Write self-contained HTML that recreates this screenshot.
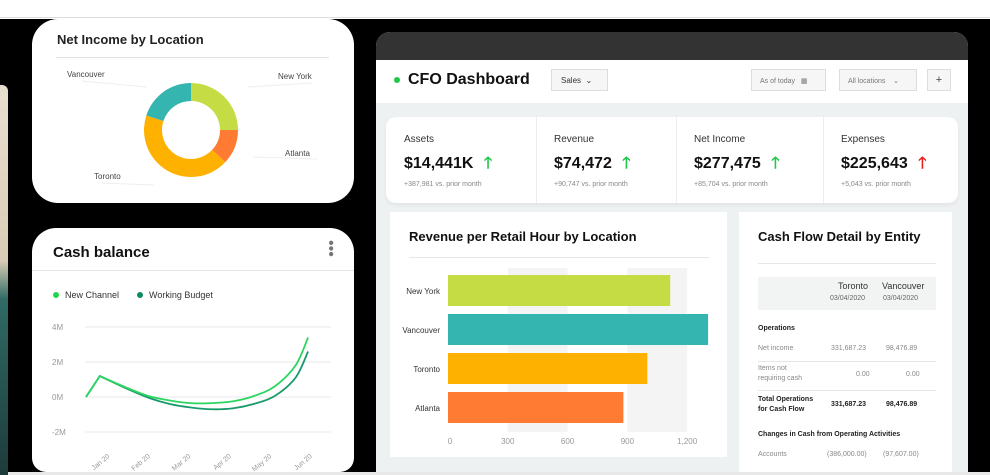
<!DOCTYPE html>
<html><head><meta charset="utf-8"><style>
*{box-sizing:border-box;margin:0;padding:0}
body{width:990px;height:475px;overflow:hidden;background:#fff;font-family:"Liberation Sans",sans-serif;position:relative}
.abs{position:absolute}
.card{position:absolute;background:#fff}
.t{position:absolute;white-space:nowrap}
</style></head><body>
<div class="abs" style="left:0;top:0;width:990px;height:18px;background:#fff;border-bottom:1px solid #ddd"></div>
<div class="abs" style="left:0;top:19px;width:990px;height:453px;background:#000"></div>
<div class="abs" style="left:0;top:472px;width:990px;height:3px;background:#e8e8e8"></div>
<div class="abs" style="left:0;top:85px;width:8px;height:390px;border-radius:0 6px 0 0;background:linear-gradient(#e9dfcf 0%,#d9ccb6 45%,#2f6a64 55%,#1d3b3a 100%)"></div>

<div class="card" style="left:32px;top:19px;width:322px;height:184px;border-radius:26px">
  <div class="t" style="left:25px;top:13px;font-size:13px;font-weight:bold;color:#222">Net Income by Location</div>
  <div class="abs" style="left:24px;top:38px;width:273px;height:1px;background:#dde3e6"></div>
  <svg class="abs" style="left:0;top:0" width="322" height="184" id="donut"></svg>
</div>

<div class="card" style="left:32px;top:228px;width:322px;height:244px;border-radius:24px 24px 14px 14px">
  <div class="t" style="left:21px;top:16px;font-size:15px;font-weight:bold;color:#111">Cash balance</div>
  <div class="t" style="left:295px;top:12px;font-size:16px;color:#777;line-height:6px;writing-mode:vertical-rl">•••</div>
  <div class="abs" style="left:0;top:42px;width:322px;height:1px;background:#e3e8ea"></div>
  <svg class="abs" style="left:0;top:0" width="322" height="244" id="line"></svg>
</div>

<div class="card" style="left:376px;top:32px;width:592px;height:440px;border-radius:14px 14px 0 0;background:#eef1f2;overflow:hidden">
  <div class="abs" style="left:0;top:0;width:592px;height:28px;background:#333"></div>
  <div class="abs" style="left:0;top:28px;width:592px;height:43px;background:#fff">
    <div class="abs" style="left:18px;top:17px;width:6px;height:6px;border-radius:50%;background:#1fc84a"></div>
    <div class="t" style="left:32px;top:11px;font-size:16px;font-weight:bold;color:#111">CFO Dashboard</div>
    <div class="abs" style="left:175px;top:9px;width:57px;height:22px;border:1px solid #ddd;background:#f6f6f6;font-size:8px;padding:6px 0 0 9px;color:#333">Sales &nbsp;⌄</div>
    <div class="abs" style="left:375px;top:9px;width:75px;height:22px;border:1px solid #ddd;background:#f6f6f6;font-size:7px;padding:7px 0 0 8px;color:#777">As of today &nbsp;&nbsp;▦</div>
    <div class="abs" style="left:463px;top:9px;width:78px;height:22px;border:1px solid #ddd;background:#f6f6f6;font-size:7px;padding:7px 0 0 8px;color:#777">All locations &nbsp;&nbsp;&nbsp;⌄</div>
    <div class="abs" style="left:551px;top:9px;width:24px;height:22px;border:1px solid #ddd;background:#f6f6f6;font-size:11px;text-align:center;padding-top:4px;color:#444">+</div>
  </div>
  <div class="abs" style="left:10px;top:85px;width:572px;height:86px;background:#fff;border-radius:10px;box-shadow:0 2px 4px rgba(0,0,0,.06)">
    <div class="abs" style="left:0;top:0;width:572px;height:86px" id="kpis"></div>
  </div>
  <div class="abs" style="left:14px;top:180px;width:337px;height:245px;background:#fff">
    <div class="t" style="left:19px;top:17px;font-size:13px;font-weight:bold;color:#111">Revenue per Retail Hour by Location</div>
    <div class="abs" style="left:19px;top:45px;width:300px;height:1px;background:#e3e8ea"></div>
  </div>
  <svg class="abs" style="left:0;top:0" width="592" height="440" id="bars"></svg>
  <div class="abs" style="left:363px;top:180px;width:213px;height:260px;background:#fff">
    <div class="t" style="left:19px;top:17px;font-size:13px;font-weight:bold;color:#111">Cash Flow Detail by Entity</div>
    <div class="abs" style="left:19px;top:51px;width:178px;height:1px;background:#e3e8ea"></div>
    <div class="abs" style="left:19px;top:65px;width:178px;height:33px;background:#f2f3f3"></div>
    <div class="t" style="left:99px;top:69px;font-size:9px;color:#333">Toronto</div>
    <div class="t" style="left:143px;top:69px;font-size:9px;color:#333">Vancouver</div>
    <div class="t" style="left:91px;top:83px;font-size:7px;color:#666">03/04/2020</div>
    <div class="t" style="left:144px;top:83px;font-size:7px;color:#666">03/04/2020</div>
    <div class="t" style="left:19px;top:113px;font-size:7px;font-weight:bold;color:#222">Operations</div>
    <div class="t" style="left:19px;top:133px;font-size:7px;color:#888">Net income</div>
    <div class="t" style="left:92px;top:133px;font-size:7px;color:#888">331,687.23</div>
    <div class="t" style="left:147px;top:133px;font-size:7px;color:#888">98,476.89</div>
    <div class="abs" style="left:19px;top:149px;width:178px;height:1px;background:#e6e6e6"></div>
    <div class="t" style="left:19px;top:152px;font-size:7px;color:#888;line-height:10px">Items not<br>requiring cash</div>
    <div class="t" style="left:117px;top:159px;font-size:7px;color:#888">0.00</div>
    <div class="t" style="left:167px;top:159px;font-size:7px;color:#888">0.00</div>
    <div class="abs" style="left:19px;top:178px;width:178px;height:1px;background:#e6e6e6"></div>
    <div class="t" style="left:19px;top:183px;font-size:7px;font-weight:bold;color:#222;line-height:10px">Total Operations<br>for Cash Flow</div>
    <div class="t" style="left:92px;top:189px;font-size:7px;font-weight:bold;color:#222">331,687.23</div>
    <div class="t" style="left:147px;top:189px;font-size:7px;font-weight:bold;color:#222">98,476.89</div>
    <div class="t" style="left:19px;top:219px;font-size:7px;font-weight:bold;color:#222">Changes in Cash from Operating Activities</div>
    <div class="t" style="left:19px;top:239px;font-size:7px;color:#888">Accounts</div>
    <div class="t" style="left:88px;top:239px;font-size:7px;color:#888">(386,000.00)</div>
    <div class="t" style="left:144px;top:239px;font-size:7px;color:#888">(97,607.00)</div>
  </div>
</div>

<script>
const NS="http://www.w3.org/2000/svg";
function mk(parent,tag,attrs,text){const e=document.createElementNS(NS,tag);for(const k in attrs)e.setAttribute(k,attrs[k]);if(text!==undefined)e.textContent=text;parent.appendChild(e);return e;}

const donutLabels=["New York","Atlanta","Toronto","Vancouver"];
const donutValues=[25,12,43,20];
const donutColors=["#c5dc44","#ff7a33","#ffb100","#35b5b0"];
(function(){
  const svg=document.getElementById('donut');
  const cx=159,cy=111,R=47,r=29;
  const total=donutValues.reduce((a,b)=>a+b,0);
  let a0=0;
  const labelPos=[[246,60,"start"],[253,137,"start"],[62,160,"start"],[35,58,"start"]];
  donutValues.forEach((v,i)=>{
    const a1=a0+v/total*Math.PI*2;
    const p=(a,rr)=>[cx+rr*Math.sin(a),cy-rr*Math.cos(a)];
    const [x1,y1]=p(a0,R),[x2,y2]=p(a1,R),[x3,y3]=p(a1,r),[x4,y4]=p(a0,r);
    const lg=(a1-a0)>Math.PI?1:0;
    const path=mk(svg,'path',{d:`M${x1},${y1}A${R},${R} 0 ${lg} 1 ${x2},${y2}L${x3},${y3}A${r},${r} 0 ${lg} 0 ${x4},${y4}Z`,fill:donutColors[i]});
    
    
    const lp=labelPos[i];
    const t=mk(svg,'text',{x:lp[0],y:lp[1],'font-size':8,fill:'#444','text-anchor':lp[2]},donutLabels[i]);
    
    
    a0=a1;
  });
  [[[216,68],[280,64]],[[222,138],[285,140]],[[122,166],[70,164]],[[115,68],[50,62]]].forEach(l=>{
    const ln=mk(svg,'polyline',{points:l.map(p=>p.join(',')).join(' '),fill:'none',stroke:'#eee','stroke-width':1});
    
    
  });
})();

const lineTicks=[4,2,0,-2];
const tickLabels=["4M","2M","0M","-2M"];
const monthLabels=["Jan 20","Feb 20","Mar 20","Apr 20","May 20","Jun 20"];
const xIdx=[0,0.33,1,1.5,2,2.5,3,3.5,4,4.5,5,5.3];
const newChannel=[0,1.2,0.5,0.05,-0.2,-0.35,-0.35,-0.25,0.05,0.6,1.8,3.4];
const workingBudget=[0,1.2,0.45,-0.05,-0.4,-0.6,-0.7,-0.65,-0.4,0.05,1.1,2.6];
(function(){
  const svg=document.getElementById('line');
  const y=v=>169-v*17.5;
  const x=i=>54+i*41.9;
  lineTicks.forEach((v,i)=>{
    const g=mk(svg,'line',{x1:53,x2:299,y1:y(v),y2:y(v),stroke:'#e4e9eb'});
    
    
    const t=mk(svg,'text',{x:20,y:y(v)+3,'font-size':8,fill:'#999'},tickLabels[i]);
    
    
  });
  monthLabels.forEach((m,i)=>{
    const px=78+i*40.5,py=229;
    const t=mk(svg,'text',{x:px,y:py,'font-size':7,fill:'#999','text-anchor':'end',transform:`rotate(-40 ${px} ${py})`},m);
    
    
  });
  function smooth(xs,vs){
    const P=xs.map((xi,i)=>[x(xi),y(vs[i])]);
    let d=`M${P[0][0]},${P[0][1]}L${P[1][0]},${P[1][1]}`;
    for(let i=1;i<P.length-1;i++){
      const p0=P[Math.max(i-1,1)],p1=P[i],p2=P[i+1],p3=P[Math.min(i+2,P.length-1)];
      const c1=[p1[0]+(p2[0]-p0[0])/6,p1[1]+(p2[1]-p0[1])/6];
      const c2=[p2[0]-(p3[0]-p1[0])/6,p2[1]-(p3[1]-p1[1])/6];
      d+=`C${c1[0]},${c1[1]} ${c2[0]},${c2[1]} ${p2[0]},${p2[1]}`;
    }
    return d;
  }
  const wb=mk(svg,'path',{d:smooth(xIdx,workingBudget),fill:'none',stroke:'#1a9a6a','stroke-width':1.8});
  
  
  const nc=mk(svg,'path',{d:smooth(xIdx,newChannel),fill:'none',stroke:'#2bd660','stroke-width':1.8});
  
  
  const l1=mk(svg,'circle',{cx:24,cy:67,r:3,fill:'#1fd44a'});
  
  
  const l1t=mk(svg,'text',{x:33,y:70,'font-size':9,fill:'#333'},'New Channel');
  
  
  const l2=mk(svg,'circle',{cx:108,cy:67,r:3,fill:'#0e8a66'});
  
  
  const l2t=mk(svg,'text',{x:117,y:70,'font-size':9,fill:'#333'},'Working Budget');
  
  
})();

const kpiNames=["Assets","Revenue","Net Income","Expenses"];
const kpiValues=["$14,441K","$74,472","$277,475","$225,643"];
const kpiDeltas=["+387,981 vs. prior month","+90,747 vs. prior month","+85,704 vs. prior month","+5,043 vs. prior month"];
const kpiUp=[true,true,true,false];
(function(){
  const box=document.getElementById('kpis');
  const lefts=[18,168,308,455];
  kpiNames.forEach((n,i)=>{
    const d=document.createElement('div');
    d.className='abs';
    
    
    d.style.cssText=`left:${lefts[i]}px;top:0;width:140px;height:86px`;
    d.innerHTML=`<div class="t" style="left:0;top:17px;font-size:10px;color:#333">${n}</div>
      <div class="t" style="left:0;top:35px;font-size:16px;font-weight:bold;color:#111">${kpiValues[i]} <span style="color:${kpiUp[i]?'#1fc84a':'#e8231b'};margin-left:6px">🡑</span></div>
      <div class="t" style="left:0;top:64px;font-size:7px;color:#888">${kpiDeltas[i]}</div>`;
    box.appendChild(d);
    if(i>0){const s=document.createElement('div');s.className='abs';
      
      
      s.style.cssText=`left:${lefts[i]-18}px;top:0;width:1px;height:86px;background:#eceeee`;box.appendChild(s);}
  });
})();

const barCats=["New York","Vancouver","Toronto","Atlanta"];
const barVals=[1115,1305,1000,880];
const barColors=["#c5dc44","#35b5b0","#ffb100","#ff7a33"];
const barTicks=[0,300,600,900,1200];
const barTickLabels=["0","300","600","900","1,200"];
(function(){
  const svg=document.getElementById('bars');
  const x=v=>72+v*0.1993;
  [[300,600],[900,1200]].forEach(b=>{
    const r=mk(svg,'rect',{x:x(b[0]),y:236,width:x(b[1])-x(b[0]),height:164,fill:'#f4f4f4'});
    
    
  });
  barCats.forEach((c,i)=>{
    const yy=243+i*39;
    const r=mk(svg,'rect',{x:x(0),y:yy,width:x(barVals[i])-x(0),height:31,fill:barColors[i]});
    
    
    const t=mk(svg,'text',{x:64,y:yy+19,'font-size':8,fill:'#333','text-anchor':'end'},c);
    
    
  });
  barTicks.forEach((v,i)=>{
    const t=mk(svg,'text',{x:x(v)+(i==0?2:0),y:412,'font-size':8,fill:'#999','text-anchor':'middle'},barTickLabels[i]);
    
    
  });
})();
</script>
</body></html>
